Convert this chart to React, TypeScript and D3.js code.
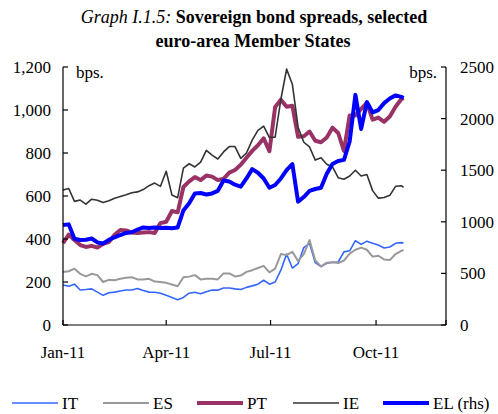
import * as d3 from "d3"

const dates = [
  "2011-01-01", "2011-01-06", "2011-01-11", "2011-01-16", "2011-01-21", "2011-01-26", "2011-01-31",
  "2011-02-05", "2011-02-10", "2011-02-15", "2011-02-20", "2011-02-25",
  "2011-03-02", "2011-03-07", "2011-03-12", "2011-03-17", "2011-03-22", "2011-03-27",
  "2011-04-01", "2011-04-06", "2011-04-11", "2011-04-16", "2011-04-21", "2011-04-26",
  "2011-05-01", "2011-05-06", "2011-05-11", "2011-05-16", "2011-05-21", "2011-05-26", "2011-05-31",
  "2011-06-05", "2011-06-10", "2011-06-15", "2011-06-20", "2011-06-25", "2011-06-30",
  "2011-07-05", "2011-07-10", "2011-07-15", "2011-07-20", "2011-07-25", "2011-07-30",
  "2011-08-04", "2011-08-09", "2011-08-14", "2011-08-19", "2011-08-24", "2011-08-29",
  "2011-09-03", "2011-09-08", "2011-09-13", "2011-09-18", "2011-09-23", "2011-09-28",
  "2011-10-03", "2011-10-08", "2011-10-13", "2011-10-18", "2011-10-23", "2011-10-25",
]

const it = [186, 180, 190, 163, 165, 168, 153, 138, 150, 153, 158, 163, 163, 170, 160, 153, 152, 148, 138, 128,
  118, 128, 148, 152, 145, 155, 163, 162, 172, 172, 168, 165, 175, 182, 190, 208, 190, 200, 255, 330,
  265, 285, 360, 380, 290, 272, 287, 292, 293, 340, 345, 392, 375, 390, 380, 372, 358, 363, 380, 383, 381]
const es = [247, 250, 262, 238, 226, 238, 232, 200, 210, 208, 215, 220, 222, 212, 212, 215, 202, 200, 196, 188,
  180, 222, 225, 232, 212, 215, 215, 212, 240, 240, 226, 230, 247, 255, 265, 275, 245, 262, 330, 325,
  340, 298, 330, 395, 300, 272, 290, 292, 288, 300, 332, 350, 360, 350, 318, 322, 305, 302, 330, 345, 349]
const pt = [381, 420, 395, 372, 363, 368, 360, 378, 386, 420, 442, 440, 430, 428, 430, 432, 428, 474, 480, 530,
  524, 642, 668, 688, 674, 695, 690, 674, 680, 709, 721, 745, 778, 810, 836, 868, 808, 1014, 1048, 1015,
  1020, 875, 878, 900, 857, 850, 872, 918, 893, 810, 975, 975, 1005, 1033, 955, 965, 945, 970, 1015, 1050, 1056]
const ie = [628, 635, 575, 581, 562, 585, 580, 570, 578, 590, 598, 606, 615, 619, 630, 648, 660, 645, 715, 605,
  592, 730, 750, 735, 758, 812, 790, 772, 805, 830, 830, 775, 800, 860, 905, 925, 872, 874, 1050, 1190,
  1120, 920, 850, 828, 767, 778, 748, 735, 685, 678, 693, 720, 693, 700, 625, 590, 593, 603, 645, 648, 640]
const el = [969, 975, 835, 824, 826, 838, 800, 790, 825, 850, 872, 892, 898, 925, 945, 940, 945, 940, 942, 938,
  945, 1110, 1180, 1275, 1279, 1265, 1275, 1300, 1400, 1390, 1360, 1340, 1420, 1510, 1475, 1420, 1330, 1357, 1420, 1500,
  1560, 1195, 1240, 1300, 1318, 1330, 1465, 1560, 1590, 1600, 1780, 2230, 1900, 2160, 2060, 2083, 2150, 2195, 2225, 2210, 2200]

const leftTicks = [0, 200, 400, 600, 800, 1000, 1200]
const rightTicks = [0, 500, 1000, 1500, 2000, 2500]
const monthTicks = ["2011-01-01", "2011-04-01", "2011-07-01", "2011-10-01", "2011-12-01"]
const monthLabels = ["Jan-11", "Apr-11", "Jul-11", "Oct-11"]

const series = [
  { name: "IT", values: it, color: "#3366ff", width: 1.6, rhs: false },
  { name: "ES", values: es, color: "#999999", width: 2, rhs: false },
  { name: "PT", values: pt, color: "#993366", width: 4, rhs: false },
  { name: "IE", values: ie, color: "#333333", width: 1.6, rhs: false },
  { name: "EL (rhs)", values: el, color: "#0000ff", width: 4, rhs: true },
]

const W = 498
const H = 414
const font = "'Liberation Serif', 'Times New Roman', serif"

export default function App() {
  const parse = d3.timeParse("%Y-%m-%d")
  const xs = dates.map((d) => parse(d) as Date)

  const x = d3.scaleTime()
    .domain([parse("2011-01-01") as Date, parse("2011-12-01") as Date])
    .range([63, 446])
  const yL = d3.scaleLinear().domain([0, 1200]).range([325, 67])
  const yR = d3.scaleLinear().domain([0, 2500]).range([325, 67])

  const fmt = d3.format(",")

  const legendX = [12, 103, 197, 293, 383]

  return (
    <svg width={W} height={H} style={{ position: "absolute", left: 0, top: 0, fontFamily: font }}>
      <rect width={W} height={H} fill="#fff" />
      {/* title */}
      <text x={254} y={23} textAnchor="middle" fontSize={18}>
        <tspan fontStyle="italic">Graph I.1.5: </tspan>
        <tspan fontWeight="bold">Sovereign bond spreads, selected</tspan>
      </text>
      <text x={253} y={47} textAnchor="middle" fontSize={18} fontWeight="bold">euro-area Member States</text>

      {/* series */}
      <g fill="none" strokeLinejoin="round">
        {series.map((s) => {
          const y = s.rhs ? yR : yL
          const line = d3.line<number>()
            .x((_, i) => x(xs[i]))
            .y((v) => y(v))
          return <path key={s.name} d={line(s.values) || ""} stroke={s.color} strokeWidth={s.width} />
        })}
      </g>

      {/* axes */}
      <g stroke="#000" strokeWidth={1.2}>
        <line x1={63} x2={63} y1={67} y2={325} />
        <line x1={446} x2={446} y1={67} y2={325} />
        <line x1={63} x2={446} y1={325} y2={325} />
        {leftTicks.map((t) => <line key={"l" + t} x1={63} x2={68} y1={yL(t)} y2={yL(t)} />)}
        {rightTicks.map((t) => <line key={"r" + t} x1={441} x2={446} y1={yR(t)} y2={yR(t)} />)}
        {monthTicks.map((m) => {
          const px = x(parse(m) as Date)
          return <line key={m} x1={px} x2={px} y1={325} y2={320} />
        })}
      </g>

      <g fontSize={17}>
        {leftTicks.map((t) => (
          <text key={"lt" + t} x={51} y={yL(t) + 6} textAnchor="end">{fmt(t)}</text>
        ))}
        {rightTicks.map((t) => (
          <text key={"rt" + t} x={460} y={yR(t) + 6}>{t}</text>
        ))}
        {monthLabels.map((m, i) => (
          <text key={m} x={x(parse(monthTicks[i]) as Date)} y={358} textAnchor="middle">{m}</text>
        ))}
        <text x={76} y={78}>bps.</text>
        <text x={437} y={78} textAnchor="end">bps.</text>
      </g>

      {/* legend */}
      <g fontSize={17}>
        {series.map((s, i) => (
          <g key={s.name}>
            <line x1={legendX[i]} x2={legendX[i] + 46} y1={403} y2={403} stroke={s.color} strokeWidth={s.width} />
            <text x={legendX[i] + 50} y={409}>{s.name}</text>
          </g>
        ))}
      </g>
    </svg>
  )
}
